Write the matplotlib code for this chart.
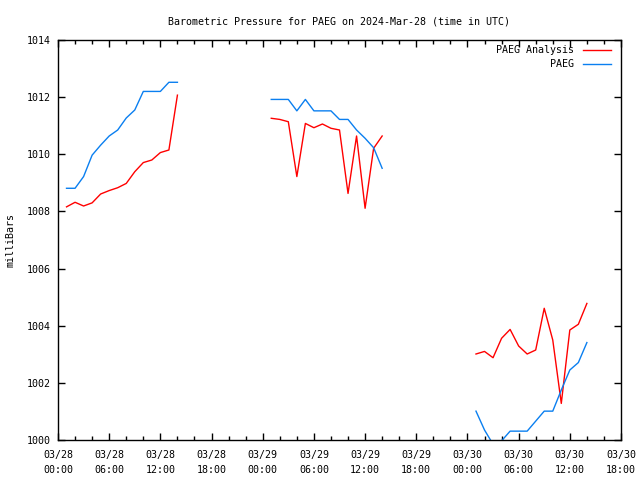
import numpy as np
import matplotlib
matplotlib.use('Agg')
import matplotlib.pyplot as plt
import matplotlib.dates as mdates

plt.rcParams['font.family'] = 'DejaVu Sans Mono'
plt.rcParams['font.size'] = 7.2

start = np.datetime64('2024-03-28T00:00')

# hours after 03/28 00:00 UTC for each run of observations
hours_1 = list(range(1, 15))
hours_2 = list(range(25, 39))
hours_3 = list(range(49, 63))

# PAEG Analysis (red)
analysis_1 = [1008.16, 1008.32, 1008.19, 1008.30, 1008.61, 1008.73, 1008.83,
              1008.98, 1009.39, 1009.71, 1009.80, 1010.06, 1010.15, 1012.07]
analysis_2 = [1011.26, 1011.22, 1011.14, 1009.22, 1011.08, 1010.93, 1011.06,
              1010.91, 1010.85, 1008.63, 1010.64, 1008.11, 1010.21, 1010.64]
analysis_3 = [1003.01, 1003.10, 1002.88, 1003.56, 1003.87, 1003.29, 1003.01,
              1003.15, 1004.61, 1003.50, 1001.28, 1003.85, 1004.05, 1004.78]

# PAEG observed (blue)
obs_1 = [1008.81, 1008.81, 1009.22, 1009.97, 1010.32, 1010.64, 1010.85,
         1011.27, 1011.55, 1012.20, 1012.20, 1012.20, 1012.52, 1012.52]
obs_2 = [1011.92, 1011.92, 1011.92, 1011.52, 1011.92, 1011.52, 1011.52,
         1011.52, 1011.22, 1011.22, 1010.85, 1010.56, 1010.23, 1009.51]
obs_3 = [1001.01, 1000.35, 999.85, 999.97, 1000.31, 1000.31, 1000.31,
         1000.66, 1001.01, 1001.01, 1001.75, 1002.45, 1002.71, 1003.41]

red = '#ff0000'
blue = '#0a7ff0'

fig = plt.figure(figsize=(6.4, 4.8), dpi=100)
ax = fig.add_axes([58 / 640, 1 - 440 / 480, 563 / 640, 400 / 480])


def to_time(hours):
    return (start + np.array(hours, dtype='timedelta64[h]')).astype('datetime64[m]').astype(object)


for hrs, vals in [(hours_1, analysis_1), (hours_2, analysis_2), (hours_3, analysis_3)]:
    ax.plot(to_time(hrs), vals, color=red, lw=1)
for hrs, vals in [(hours_1, obs_1), (hours_2, obs_2), (hours_3, obs_3)]:
    ax.plot(to_time(hrs), vals, color=blue, lw=1)

ax.set_xlim(to_time([0])[0], to_time([66])[0])
ax.set_ylim(1000, 1014)
ax.set_yticks(np.arange(1000, 1015, 2))
ax.xaxis.set_major_locator(mdates.HourLocator(byhour=[0, 6, 12, 18]))
ax.xaxis.set_minor_locator(mdates.HourLocator(interval=2))
ax.xaxis.set_major_formatter(mdates.DateFormatter('%m/%d\n%H:%M'))

ax.tick_params(axis='both', which='both', direction='in', top=True, right=True,
               width=1, colors='black')
ax.tick_params(axis='both', which='major', length=5, pad=5)
ax.tick_params(axis='x', which='major', pad=7.5)
ax.tick_params(axis='x', which='minor', length=3)
for lbl in ax.get_xticklabels():
    lbl.set_linespacing(1.55)
for s in ax.spines.values():
    s.set_linewidth(1)

ax.set_title('Barometric Pressure for PAEG on 2024-Mar-28 (time in UTC)', fontsize=7.2, pad=11)
ax.set_ylabel('milliBars', labelpad=8)

# legend, gnuplot style: right aligned text then sample line
ax.text(0.917, 0.975, 'PAEG Analysis', transform=ax.transAxes, ha='right', va='center')
ax.plot([0.9325, 0.983], [0.975, 0.975], color=red, lw=1, transform=ax.transAxes)
ax.text(0.917, 0.94, 'PAEG', transform=ax.transAxes, ha='right', va='center')
ax.plot([0.9325, 0.983], [0.94, 0.94], color=blue, lw=1, transform=ax.transAxes)

fig.savefig('out.png', dpi=100)
